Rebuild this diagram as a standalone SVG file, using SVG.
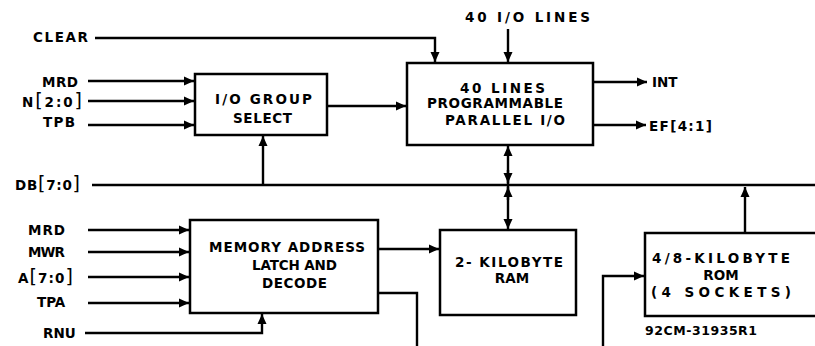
<svg xmlns="http://www.w3.org/2000/svg" width="815" height="346" viewBox="0 0 815 346">
<defs>
<marker id="ah" markerUnits="userSpaceOnUse" markerWidth="10" markerHeight="10" viewBox="0 0 10 10" refX="10" refY="5" orient="auto">
<path d="M0,0.5 L10,5 L0,9.5 Z" fill="#000"/>
</marker>
<marker id="ahs" markerUnits="userSpaceOnUse" markerWidth="10" markerHeight="10" viewBox="0 0 10 10" refX="0" refY="5" orient="auto">
<path d="M10,0.5 L0,5 L10,9.5 Z" fill="#000"/>
</marker>
<style>
.box{fill:#fff;stroke:#000;stroke-width:2.5}
.ln{fill:none;stroke:#000;stroke-width:2.4}
.arr{marker-end:url(#ah)}
text{font-family:"DejaVu Sans","Liberation Sans",Arial,sans-serif;font-weight:bold;font-size:13.5px;fill:#000}
.br{font-weight:normal;font-size:19px}
.sm{font-size:12.5px}
.mid{text-anchor:middle}
</style>
</defs>
<rect width="815" height="346" fill="#fff"/>
<g id="connectors">
<path class="ln arr" d="M95,38 H435 V62"/>
<path class="ln arr" d="M508,29 V62"/>
<path class="ln arr" d="M88,81 H194"/>
<path class="ln arr" d="M88,101 H194"/>
<path class="ln arr" d="M88,125 H194"/>
<path class="ln arr" d="M327,106 H406"/>
<path class="ln arr" d="M593,82 H647"/>
<path class="ln arr" d="M593,125 H646"/>
<path class="ln" d="M92,185 H815"/>
<path class="ln arr" d="M263,185 V136"/>
<path class="ln" d="M508,146 V229" marker-start="url(#ahs)" marker-end="url(#ah)"/>
<path class="ln arr" d="M508,170 V183"/>
<path class="ln arr" d="M508,200 V187"/>
<path class="ln arr" d="M745,232 V187"/>
<path class="ln arr" d="M88,230 H189"/>
<path class="ln arr" d="M88,252 H189"/>
<path class="ln arr" d="M88,277 H189"/>
<path class="ln arr" d="M88,303 H189"/>
<path class="ln arr" d="M85,333 H262 V314"/>
<path class="ln arr" d="M378,249 H439"/>
<path class="ln" d="M378,293 H417 V346"/>
<path class="ln arr" d="M603,346 V276 H644"/>
</g>
<g id="io-group-select">
<rect class="box" x="195" y="74" width="132" height="61"/>
<text x="215" y="104" textLength="97" lengthAdjust="spacing">I/O  GROUP</text>
<text x="233" y="123" textLength="59" lengthAdjust="spacing">SELECT</text>
</g>
<g id="parallel-io">
<rect class="box" x="407" y="63" width="186" height="82"/>
<text x="460" y="93" textLength="85" lengthAdjust="spacing">40  LINES</text>
<text x="427" y="108" textLength="136" lengthAdjust="spacing">PROGRAMMABLE</text>
<text x="445" y="125" textLength="120" lengthAdjust="spacing">PARALLEL I/O</text>
</g>
<g id="mem-addr">
<rect class="box" x="190" y="220" width="188" height="93"/>
<text x="209" y="252" textLength="156" lengthAdjust="spacing">MEMORY ADDRESS</text>
<text x="252" y="270" textLength="85" lengthAdjust="spacing">LATCH AND</text>
<text x="262" y="288" textLength="65" lengthAdjust="spacing">DECODE</text>
</g>
<g id="ram">
<rect class="box" x="440" y="230" width="136" height="85"/>
<text x="455" y="267" textLength="108" lengthAdjust="spacing">2- KILOBYTE</text>
<text class="mid" x="512" y="283">RAM</text>
</g>
<g id="rom">
<rect class="box" x="645" y="233" width="176" height="83"/>
<text x="652" y="263" textLength="138" lengthAdjust="spacing">4/8-KILOBYTE</text>
<text class="mid" x="721" y="280">ROM</text>
<text x="651" y="297" textLength="140" lengthAdjust="spacing">(4 SOCKETS)</text>
</g>
<g id="labels">
<text x="465" y="22" textLength="125" lengthAdjust="spacing">40 I/O LINES</text>
<text x="33" y="42" textLength="55" lengthAdjust="spacing">CLEAR</text>
<text x="42" y="87" textLength="36" lengthAdjust="spacing">MRD</text>
<text x="22" y="107" textLength="60" lengthAdjust="spacing">N<tspan class="br">[</tspan>2:0<tspan class="br">]</tspan></text>
<text x="43" y="127" textLength="32" lengthAdjust="spacing">TPB</text>
<text x="15" y="190" textLength="65" lengthAdjust="spacing">DB<tspan class="br">[</tspan>7:0<tspan class="br">]</tspan></text>
<text x="28" y="235" textLength="37" lengthAdjust="spacing">MRD</text>
<text x="28" y="257" textLength="37" lengthAdjust="spacing">MWR</text>
<text x="18" y="283" textLength="55" lengthAdjust="spacing">A<tspan class="br">[</tspan>7:0<tspan class="br">]</tspan></text>
<text x="37" y="307">TPA</text>
<text x="43" y="338">RNU</text>
<text x="652" y="87">INT</text>
<text x="649" y="131" textLength="63" lengthAdjust="spacing">EF[4:1]</text>
<text class="sm" x="645" y="335" textLength="112" lengthAdjust="spacing">92CM-31935R1</text>
</g>
</svg>
